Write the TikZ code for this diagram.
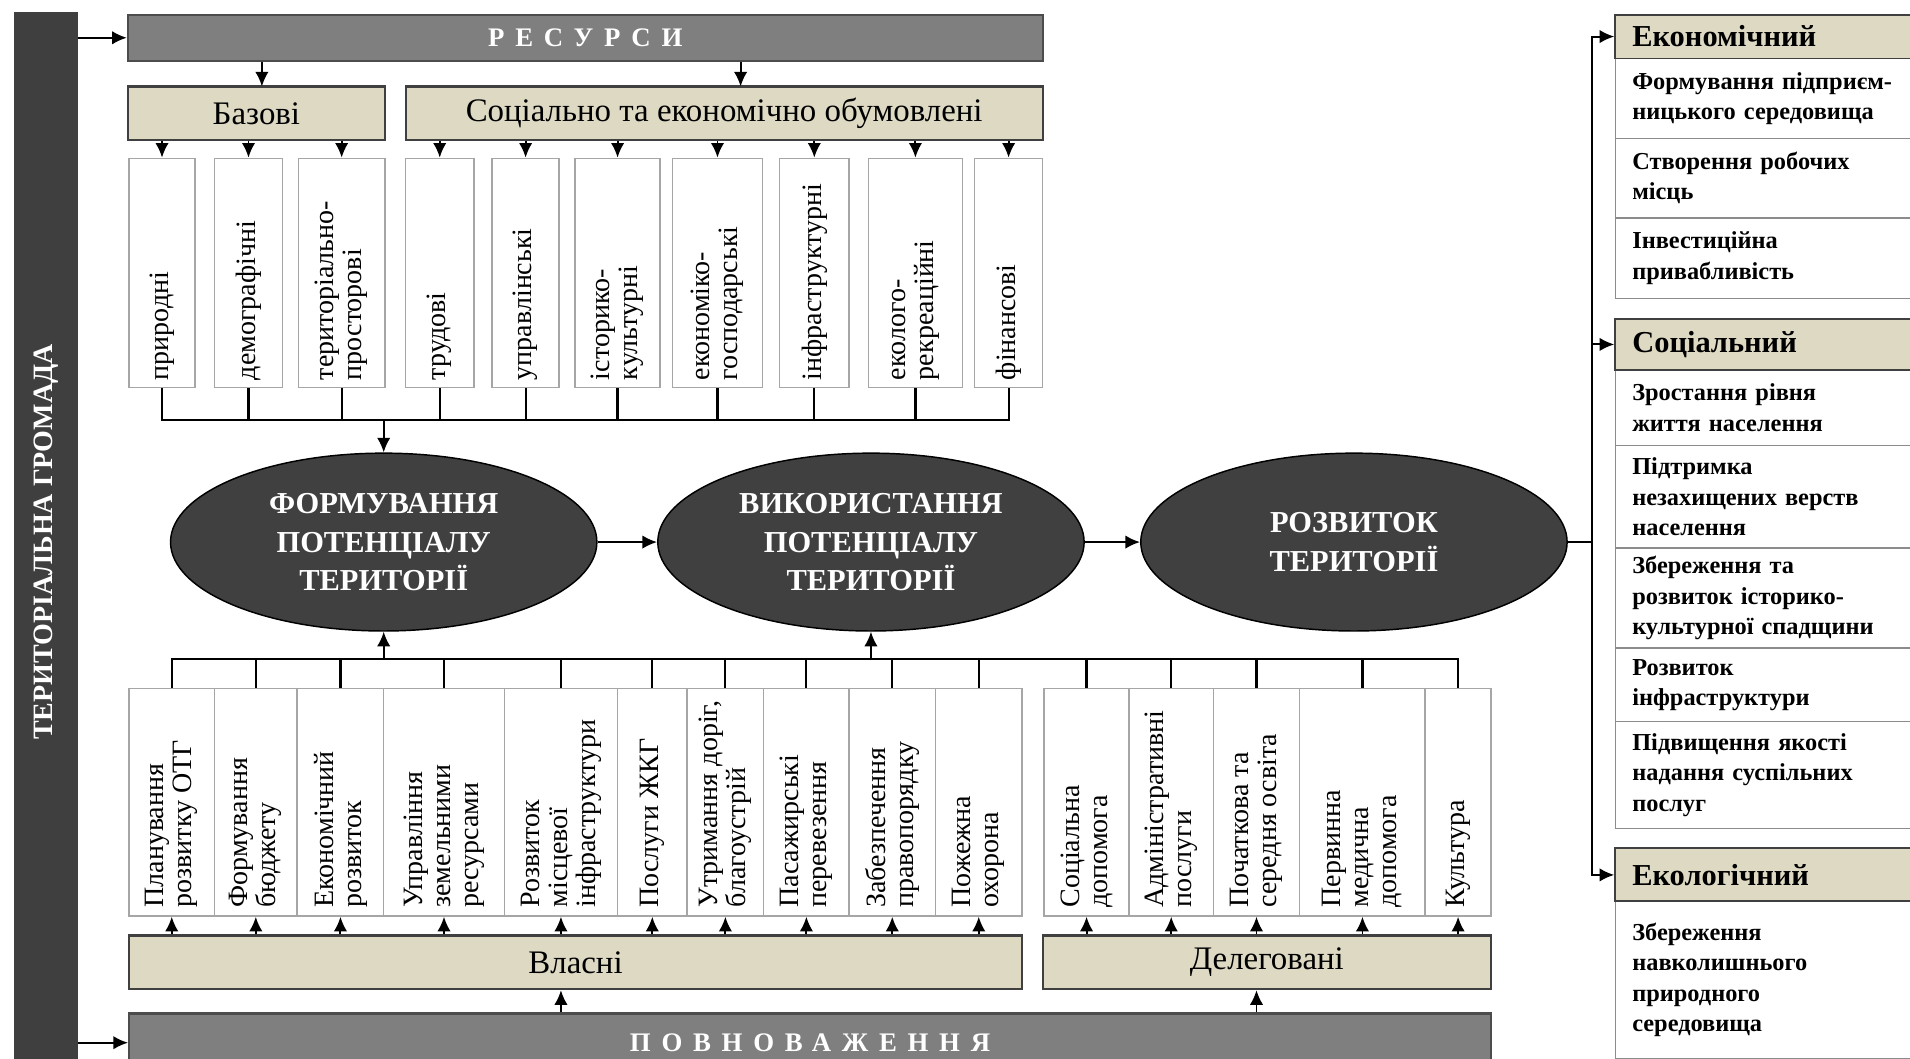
\documentclass[tikz,border=0pt]{standalone}
\usepackage{fontspec}
\setmainfont{Liberation Serif}
\usepackage{graphicx}
\usetikzlibrary{shapes.geometric,arrows.meta}
\definecolor{barDark}{HTML}{3F3F3F}
\definecolor{barGrey}{HTML}{7F7F7F}
\definecolor{tanFill}{HTML}{DDD9C3}
\definecolor{ellFill}{HTML}{404040}
\newcommand{\vlab}[2]{\rotatebox{90}{\parbox{#1}{\raggedright #2}}}

\begin{document}
\begin{tikzpicture}[x=0.5pt,y=-0.5pt]
\tikzstyle{barStyle}=[fill=barDark, draw=barDark, inner sep=0pt, text=white, font=\bfseries\fontsize{11.5}{12}\selectfont]
\tikzstyle{greyStyle}=[fill=barGrey, draw=black!70, line width=0.9pt, inner sep=0pt, text=white, font=\bfseries\fontsize{11}{12}\selectfont\addfontfeatures{LetterSpace=40}]
\tikzstyle{tanStyle}=[fill=tanFill, draw=black!75, line width=0.9pt, inner sep=0pt, font=\fontsize{13.5}{14}\selectfont]
\tikzstyle{colStyle}=[draw=black!35, fill=white, line width=0.6pt, inner sep=0pt, font=\fontsize{11.5}{11.5}\selectfont]
\tikzstyle{ellStyle}=[ellipse, fill=ellFill, draw=black, line width=0.6pt, minimum width=175pt, minimum height=73pt, inner sep=0pt, align=center, text=white, font=\bfseries\fontsize{12.5}{16}\selectfont]
\tikzstyle{headStyle}=[fill=tanFill, draw=black!75, line width=0.8pt, minimum width=127pt, text width=113pt, inner xsep=7pt, inner ysep=0pt, align=left, font=\bfseries\fontsize{12.5}{14}\selectfont]
\tikzstyle{rowStyle}=[draw=black!45, fill=white, line width=0.6pt, minimum width=127pt, text width=113pt, inner xsep=7pt, inner ysep=1pt, align=left, font=\bfseries\fontsize{10}{12.5}\selectfont]
\tikzstyle{lineStyle}=[line width=0.9pt]
\tikzstyle{arrStyle}=[line width=0.8pt, -{Latex[length=6pt,width=5.5pt]}]
\useasboundingbox (0,0) rectangle (1568,869);
\clip (0,0) rectangle (1568,869);
\node[barStyle, minimum width=26pt, minimum height=435pt] (hromada) at (38,445) {\rotatebox{90}{ТЕРИТОРІАЛЬНА ГРОМАДА}};
\node[greyStyle, minimum width=375.5pt, minimum height=19pt] (res) at (480.5,31) {РЕСУРСИ};
\node[tanStyle, minimum width=105.5pt, minimum height=22pt] (baz) at (210.5,93) {Базові};
\node[tanStyle, minimum width=261.5pt, minimum height=22pt] (soc) at (594.5,93) {Соціально та економічно обумовлені};
\coordinate (bazTop) at (215,71);
\coordinate (socTop) at (608,71);
\node[colStyle, minimum width=27pt, minimum height=94pt] (p1) at (133,224) {\vlab{88pt}{природні}};
\node[colStyle, minimum width=28pt, minimum height=94pt] (p2) at (204,224) {\vlab{88pt}{демографічні}};
\node[colStyle, minimum width=35.5pt, minimum height=94pt] (p3) at (280.5,224) {\vlab{88pt}{територіально-\\просторові}};
\node[colStyle, minimum width=28pt, minimum height=94pt] (p4) at (361,224) {\vlab{88pt}{трудові}};
\node[colStyle, minimum width=27.5pt, minimum height=94pt] (p5) at (431.5,224) {\vlab{88pt}{управлінські}};
\node[colStyle, minimum width=35pt, minimum height=94pt] (p6) at (507,224) {\vlab{88pt}{історико-\\культурні}};
\node[colStyle, minimum width=37pt, minimum height=94pt] (p7) at (589,224) {\vlab{88pt}{економіко-\\господарські}};
\node[colStyle, minimum width=28.5pt, minimum height=94pt] (p8) at (668.5,224) {\vlab{88pt}{інфраструктурні}};
\node[colStyle, minimum width=38.5pt, minimum height=94pt] (p9) at (751.5,224) {\vlab{88pt}{еколого-\\рекреаційні}};
\node[colStyle, minimum width=28pt, minimum height=94pt] (p10) at (828,224) {\vlab{88pt}{фінансові}};
\coordinate (topBus) at (315,345);
\node[ellStyle] (ell1) at (315,445) {ФОРМУВАННЯ\\ПОТЕНЦІАЛУ\\ТЕРИТОРІЇ};
\node[ellStyle] (ell2) at (715,445) {ВИКОРИСТАННЯ\\ПОТЕНЦІАЛУ\\ТЕРИТОРІЇ};
\node[ellStyle] (ell3) at (1111.5,445) {РОЗВИТОК\\ТЕРИТОРІЇ};
\coordinate (botBus) at (315,541);
\node[colStyle, minimum width=35pt, minimum height=93.5pt] (b1) at (141,658.5) {\vlab{86.5pt}{Планування\\розвитку ОТГ}};
\node[colStyle, minimum width=34pt, minimum height=93.5pt] (b2) at (210,658.5) {\vlab{86.5pt}{Формування\\бюджету}};
\node[colStyle, minimum width=35.5pt, minimum height=93.5pt] (b3) at (279.5,658.5) {\vlab{86.5pt}{Економічний\\розвиток}};
\node[colStyle, minimum width=49.5pt, minimum height=93.5pt] (b4) at (364.5,658.5) {\vlab{86.5pt}{Управління\\земельними\\ресурсами}};
\node[colStyle, minimum width=46.5pt, minimum height=93.5pt] (b5) at (460.5,658.5) {\vlab{86.5pt}{Розвиток\\місцевої\\інфраструктури}};
\node[colStyle, minimum width=28.5pt, minimum height=93.5pt] (b6) at (535.5,658.5) {\vlab{86.5pt}{Послуги ЖКГ}};
\node[colStyle, minimum width=31.5pt, minimum height=93.5pt] (b7) at (595.5,658.5) {\vlab{86.5pt}{Утримання доріг,\\благоустрій}};
\node[colStyle, minimum width=35pt, minimum height=93.5pt] (b8) at (662,658.5) {\vlab{86.5pt}{Пасажирські\\перевезення}};
\node[colStyle, minimum width=35.5pt, minimum height=93.5pt] (b9) at (732.5,658.5) {\vlab{86.5pt}{Забезпечення\\правопорядку}};
\node[colStyle, minimum width=35.5pt, minimum height=93.5pt] (b10) at (803.5,658.5) {\vlab{86.5pt}{Пожежна\\охорона}};
\node[colStyle, minimum width=35pt, minimum height=93.5pt] (b11) at (892,658.5) {\vlab{86.5pt}{Соціальна\\допомога}};
\node[colStyle, minimum width=34.5pt, minimum height=93.5pt] (b12) at (961.5,658.5) {\vlab{86.5pt}{Адміністративні\\послуги}};
\node[colStyle, minimum width=35.5pt, minimum height=93.5pt] (b13) at (1031.5,658.5) {\vlab{86.5pt}{Початкова та\\середня освіта}};
\node[colStyle, minimum width=51.5pt, minimum height=93.5pt] (b14) at (1118.5,658.5) {\vlab{86.5pt}{Первинна\\медична\\допомога}};
\node[colStyle, minimum width=27pt, minimum height=93.5pt] (b15) at (1197,658.5) {\vlab{86.5pt}{Культура}};
\node[tanStyle, minimum width=366.5pt, minimum height=22pt] (vlasni) at (472.5,790) {Власні};
\node[tanStyle, minimum width=184pt, minimum height=22pt] (deleg) at (1040,790) {Делеговані};
\node[greyStyle, minimum width=559pt, minimum height=24pt] (povn) at (665,856) {ПОВНОВАЖЕННЯ};
\node[rowStyle, minimum height=32.75pt] (r1) at (1453,80.75) {Формування підприєм-\\ницького середовища};
\node[rowStyle, minimum height=32.75pt] (r2) at (1453,146.25) {Створення робочих\\місць};
\node[rowStyle, minimum height=33pt] (r3) at (1453,212) {Інвестиційна\\привабливість};
\node[headStyle, minimum height=18pt] (hec) at (1453,30) {Економічний};
\node[rowStyle, minimum height=30.75pt] (s1) at (1453,334.75) {Зростання рівня\\життя населення};
\node[rowStyle, minimum height=42.25pt] (s2) at (1453,407.75) {Підтримка\\незахищених верств\\населення};
\node[rowStyle, minimum height=41pt] (s3) at (1453,491) {Збереження та\\розвиток історико-\\культурної спадщини};
\node[rowStyle, minimum height=30.25pt] (s4) at (1453,562.25) {Розвиток\\інфраструктури};
\node[rowStyle, minimum height=43.75pt] (s5) at (1453,636.25) {Підвищення якості\\надання суспільних\\послуг};
\node[headStyle, minimum height=21.25pt] (hsoc) at (1453,282.75) {Соціальний};
\node[rowStyle, minimum height=64.5pt] (e1) at (1453,804.5) {Збереження\\навколишнього\\природного\\середовища};
\node[headStyle, minimum height=21.75pt] (heco) at (1453,718.25) {Екологічний};
\coordinate (trunk) at (1307,445);
\draw[arrStyle] (hromada.east |- res.west) -- (res.west);
\draw[arrStyle] (hromada.east |- povn.west) -- (povn.west);
\draw[arrStyle] (bazTop |- res.south) -- (bazTop);
\draw[arrStyle] (socTop |- res.south) -- (socTop);
\draw[arrStyle] (p1 |- baz.south) -- (p1.north);
\draw[arrStyle] (p2 |- baz.south) -- (p2.north);
\draw[arrStyle] (p3 |- baz.south) -- (p3.north);
\draw[arrStyle] (p4 |- soc.south) -- (p4.north);
\draw[arrStyle] (p5 |- soc.south) -- (p5.north);
\draw[arrStyle] (p6 |- soc.south) -- (p6.north);
\draw[arrStyle] (p7 |- soc.south) -- (p7.north);
\draw[arrStyle] (p8 |- soc.south) -- (p8.north);
\draw[arrStyle] (p9 |- soc.south) -- (p9.north);
\draw[arrStyle] (p10 |- soc.south) -- (p10.north);
\draw[lineStyle] (p1.south) -- (p1.south |- topBus) -- (p10.south |- topBus) -- (p10.south);
\draw[lineStyle] (p2.south) -- (p2.south |- topBus);
\draw[lineStyle] (p3.south) -- (p3.south |- topBus);
\draw[lineStyle] (p4.south) -- (p4.south |- topBus);
\draw[lineStyle] (p5.south) -- (p5.south |- topBus);
\draw[lineStyle] (p6.south) -- (p6.south |- topBus);
\draw[lineStyle] (p7.south) -- (p7.south |- topBus);
\draw[lineStyle] (p8.south) -- (p8.south |- topBus);
\draw[lineStyle] (p9.south) -- (p9.south |- topBus);
\draw[arrStyle] (topBus) -- (ell1.north);
\draw[arrStyle] (ell1) -- (ell2);
\draw[arrStyle] (ell2) -- (ell3);
\draw[lineStyle] (b1.north) -- (b1.north |- botBus) -- (b15.north |- botBus) -- (b15.north);
\draw[lineStyle] (b2.north) -- (b2.north |- botBus);
\draw[lineStyle] (b3.north) -- (b3.north |- botBus);
\draw[lineStyle] (b4.north) -- (b4.north |- botBus);
\draw[lineStyle] (b5.north) -- (b5.north |- botBus);
\draw[lineStyle] (b6.north) -- (b6.north |- botBus);
\draw[lineStyle] (b7.north) -- (b7.north |- botBus);
\draw[lineStyle] (b8.north) -- (b8.north |- botBus);
\draw[lineStyle] (b9.north) -- (b9.north |- botBus);
\draw[lineStyle] (b10.north) -- (b10.north |- botBus);
\draw[lineStyle] (b11.north) -- (b11.north |- botBus);
\draw[lineStyle] (b12.north) -- (b12.north |- botBus);
\draw[lineStyle] (b13.north) -- (b13.north |- botBus);
\draw[lineStyle] (b14.north) -- (b14.north |- botBus);
\draw[arrStyle] (botBus) -- (ell1.south);
\draw[arrStyle] (ell2.south |- botBus) -- (ell2.south);
\draw[arrStyle] (b1 |- vlasni.north) -- (b1.south);
\draw[arrStyle] (b2 |- vlasni.north) -- (b2.south);
\draw[arrStyle] (b3 |- vlasni.north) -- (b3.south);
\draw[arrStyle] (b4 |- vlasni.north) -- (b4.south);
\draw[arrStyle] (b5 |- vlasni.north) -- (b5.south);
\draw[arrStyle] (b6 |- vlasni.north) -- (b6.south);
\draw[arrStyle] (b7 |- vlasni.north) -- (b7.south);
\draw[arrStyle] (b8 |- vlasni.north) -- (b8.south);
\draw[arrStyle] (b9 |- vlasni.north) -- (b9.south);
\draw[arrStyle] (b10 |- vlasni.north) -- (b10.south);
\draw[arrStyle] (b11 |- deleg.north) -- (b11.south);
\draw[arrStyle] (b12 |- deleg.north) -- (b12.south);
\draw[arrStyle] (b13 |- deleg.north) -- (b13.south);
\draw[arrStyle] (b14 |- deleg.north) -- (b14.south);
\draw[arrStyle] (b15 |- deleg.north) -- (b15.south);
\draw[arrStyle] (b5 |- povn.north) -- (vlasni.south -| b5);
\draw[arrStyle] (b13 |- povn.north) -- (deleg.south -| b13);
\draw[lineStyle] (ell3.east) -- (trunk);
\draw[arrStyle] (trunk) |- (hec.west);
\draw[arrStyle] (trunk) |- (hsoc.west);
\draw[arrStyle] (trunk) |- (heco.west);
\end{tikzpicture}
\end{document}
